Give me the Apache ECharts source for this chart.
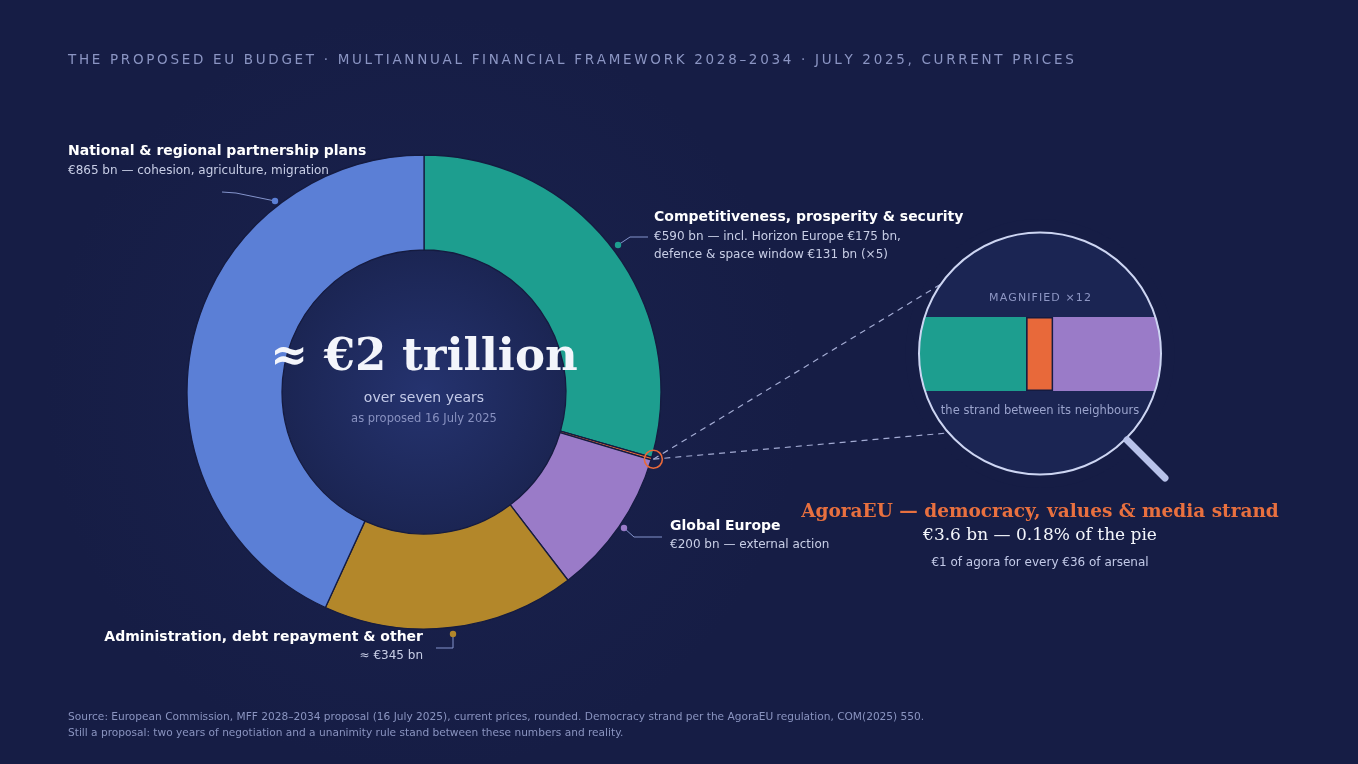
<!DOCTYPE html>
<html><head><meta charset="utf-8">
<script src="https://cdn.jsdelivr.net/npm/echarts@6/dist/echarts.min.js"></script>
<style>html,body{margin:0;padding:0;background:#161d45;}#c{width:1358px;height:764px;}</style>
</head><body><div id="c"></div>
<script>
// ---- data ----
const categories = ['Competitiveness, prosperity & security', 'AgoraEU — democracy, values & media strand', 'Global Europe', 'Administration, debt repayment & other', 'National & regional partnership plans'];
const values = [590, 3.6, 200, 345, 865];
const subLabels = ['€590 bn — incl. Horizon Europe €175 bn,', 'defence & space window €131 bn (×5)', '€200 bn — external action', '≈ €345 bn', '€865 bn — cohesion, agriculture, migration'];
const strandNeighbours = ['Competitiveness', 'AgoraEU', 'Global Europe'];
const strandValues = [590, 3.6, 200];
const zoomWindow = [575.7, 608.0];

const palette = ['#1d9e8f', '#e8693a', '#9a7bc8', '#b3872a', '#5b7fd6'];
const BG = '#161d45';
const SANS = 'DejaVu Sans';
const SERIF = 'DejaVu Serif';
const CX = 424, CY = 392, R0 = 142, R1 = 237;
const MX = 1040, MY = 353.5, MR = 121;

function spaced(s, sp) { return Array.from(s).join(sp); }

const total = values.reduce((a, b) => a + b, 0);
const midFrac = (values[0] + values[1] / 2) / total;
const th = midFrac * Math.PI * 2;
const sx = CX + (R1 + 2) * Math.sin(th), sy = CY - (R1 + 2) * Math.cos(th);

function txt(text, x, y, font, fill, align) {
  return { type: 'text', z: 60, silent: true, style: { text: text, x: x, y: y, font: font, fill: fill, textAlign: align || 'left', textVerticalAlign: 'middle' } };
}
function dot(x, y, c) { return { type: 'circle', z: 60, shape: { cx: x, cy: y, r: 3.2 }, style: { fill: c } }; }
function pl(pts, c) { return { type: 'polyline', z: 59, shape: { points: pts }, style: { stroke: c, lineWidth: 1, fill: null } }; }

const chart = echarts.init(document.getElementById('c'), null, { renderer: 'canvas' });
const option = {
  backgroundColor: BG,
  animation: false,
  grid: { left: MX - MR, top: 317, width: MR * 2, height: 74, containLabel: false },
  xAxis: { type: 'value', min: zoomWindow[0], max: zoomWindow[1], show: false },
  yAxis: { type: 'category', data: ['strand'], show: false },
  series: [
    {
      type: 'pie', center: [CX, CY], radius: [R0, R1], startAngle: 90, clockwise: true,
      silent: true, label: { show: false }, labelLine: { show: false }, z: 5,
      itemStyle: { borderColor: '#151b40', borderWidth: 1.3 },
      data: categories.map((n, i) => ({ name: n, value: values[i], itemStyle: { color: palette[i] } }))
    }
  ].concat(strandNeighbours.map((n, i) => ({
    type: 'bar', name: n, stack: 'strand', barWidth: '100%', silent: true, z: 5,
    itemStyle: { color: palette[i], borderColor: i === 1 ? '#151b40' : 'transparent', borderWidth: i === 1 ? 1.5 : 0 },
    data: [strandValues[i]]
  }))),
  graphic: { elements: [
    // glow behind donut
    { type: 'circle', z: 0, silent: true, shape: { cx: CX, cy: CY, r: 380 },
      style: { fill: new echarts.graphic.RadialGradient(0.5, 0.5, 0.5, [{ offset: 0, color: 'rgba(40,52,110,0.25)' }, { offset: 1, color: 'rgba(40,52,110,0)' }]) } },
    // donut hole
    { type: 'circle', z: 1, silent: true, shape: { cx: CX, cy: CY, r: R0 },
      style: { fill: new echarts.graphic.RadialGradient(0.5, 0.5, 0.5, [{ offset: 0, color: '#25336f' }, { offset: 1, color: '#1b2553' }]) } },
    // magnifier fill
    { type: 'circle', z: 1, silent: true, shape: { cx: MX, cy: MY, r: MR }, style: { fill: '#1b2553' } },
    // mask ring
    { type: 'circle', z: 50, silent: true, shape: { cx: MX, cy: MY, r: MR + 7 }, style: { fill: null, stroke: BG, lineWidth: 13 } },
    // magnifier rim
    { type: 'circle', z: 52, silent: true, shape: { cx: MX, cy: MY, r: MR }, style: { fill: null, stroke: '#cdd5f2', lineWidth: 2 } },
    // handle
    { type: 'line', z: 52, silent: true, shape: { x1: 1127, y1: 440, x2: 1165, y2: 478 }, style: { stroke: '#b8c2ea', lineWidth: 7, lineCap: 'round' } },
    // dashed connectors
    { type: 'line', z: 51, silent: true, shape: { x1: sx, y1: sy, x2: 941, y2: 284 }, style: { stroke: '#a3abd3', lineWidth: 1.2, lineDash: [6, 5] } },
    { type: 'line', z: 51, silent: true, shape: { x1: sx, y1: sy, x2: 947, y2: 433 }, style: { stroke: '#a3abd3', lineWidth: 1.2, lineDash: [6, 5] } },
    // strand marker
    { type: 'circle', z: 55, silent: true, shape: { cx: sx, cy: sy, r: 9 }, style: { fill: null, stroke: '#e8693a', lineWidth: 1.6 } },

    // title
    txt(spaced('THE PROPOSED EU BUDGET · MULTIANNUAL FINANCIAL FRAMEWORK 2028–2034 · JULY 2025, CURRENT PRICES', '\u2009'), 68, 60, '13.5px ' + SANS, '#8b95c3'),

    // centre
    txt('≈ €2 trillion', CX, 358, 'bold 45px ' + SERIF, '#f3f5fb', 'center'),
    txt('over seven years', CX, 398, '14px ' + SANS, '#c3cae8', 'center'),
    txt('as proposed 16 July 2025', CX, 419, '11.5px ' + SANS, '#8891c0', 'center'),

    // National
    txt(categories[4], 68, 151, 'bold 14px ' + SANS, '#ffffff'),
    txt(subLabels[4], 68, 171, '12px ' + SANS, '#c8cee6'),
    pl([[222, 192], [236, 193], [275, 201]], '#8494cc'), dot(275, 201, palette[4]),

    // Competitiveness
    txt(categories[0], 654, 217, 'bold 14px ' + SANS, '#ffffff'),
    txt(subLabels[0], 654, 237, '12px ' + SANS, '#c8cee6'),
    txt(subLabels[1], 654, 255, '12px ' + SANS, '#c8cee6'),
    pl([[618, 245], [630, 237], [648, 237]], '#8494cc'), dot(618, 245, palette[0]),

    // Global Europe
    txt(categories[2], 670, 526, 'bold 14px ' + SANS, '#ffffff'),
    txt(subLabels[2], 670, 545, '12px ' + SANS, '#c8cee6'),
    pl([[624, 528], [634, 537], [662, 537]], '#8494cc'), dot(624, 528, palette[2]),

    // Administration
    txt(categories[3], 423, 637, 'bold 14px ' + SANS, '#ffffff', 'right'),
    txt(subLabels[3], 423, 656, '12px ' + SANS, '#c8cee6', 'right'),
    pl([[453, 634], [453, 648], [436, 648]], '#8494cc'), dot(453, 634, palette[3]),

    // magnifier texts
    txt(spaced('MAGNIFIED ×12', '\u200A'), MX, 298, '11px ' + SANS, '#8e97c4', 'center'),
    txt('the strand between its neighbours', MX, 411, '11.5px ' + SANS, '#9aa3cc', 'center'),

    // AgoraEU callout
    txt(categories[1], MX, 512, 'bold 18.5px ' + SERIF, '#e8703f', 'center'),
    txt('€3.6 bn — 0.18% of the pie', MX, 536, '17px ' + SERIF, '#f3f5fb', 'center'),
    txt('€1 of agora for every €36 of arsenal', MX, 563, '12px ' + SANS, '#c3cae8', 'center'),

    // footer
    txt('Source: European Commission, MFF 2028–2034 proposal (16 July 2025), current prices, rounded. Democracy strand per the AgoraEU regulation, COM(2025) 550.', 68, 717, '10.6px ' + SANS, '#8a94c0'),
    txt('Still a proposal: two years of negotiation and a unanimity rule stand between these numbers and reality.', 68, 733, '10.6px ' + SANS, '#8a94c0')
  ] }
};
chart.setOption(option);
</script></body></html>
